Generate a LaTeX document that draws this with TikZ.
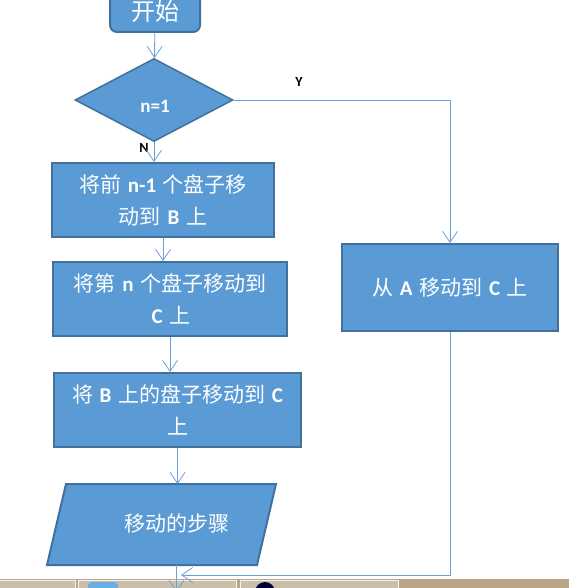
\documentclass[tikz,border=0pt]{standalone}
\usepackage{fontspec}
\setmainfont{Noto Sans CJK SC}
\newfontfamily\latfont{Carlito}
\usetikzlibrary{arrows.meta,positioning,shapes.geometric}
\definecolor{pBlue}{RGB}{91,155,213}
\definecolor{pEdge}{RGB}{65,113,156}
\definecolor{pLine}{RGB}{106,160,214}
\definecolor{pBar}{RGB}{184,165,138}
\definecolor{pTab}{RGB}{203,191,172}
\newcommand{\eng}[1]{\hspace{2pt}{\latfont\bfseries #1}\hspace{2pt}}
\tikzset{
    box/.style={rectangle, draw=pEdge, line width=2pt, fill=pBlue, text=white, align=center, inner sep=0pt, font=\fontsize{21}{32}\selectfont},
    term/.style={box, rounded corners=7pt, minimum width=90pt, minimum height=42pt, font=\fontsize{24}{28}\selectfont},
    dia/.style={diamond, draw=pEdge, line width=1.5pt, fill=pBlue, text=white, inner sep=0pt, minimum width=158pt, minimum height=83pt, text height=26pt, text depth=0pt, font=\fontsize{19}{20}\selectfont},
    parabox/.style={draw=pEdge, line width=2pt, fill=pBlue, line join=miter},
    txt/.style={text=white, font=\fontsize{21}{32}\selectfont},
    lab/.style={font=\fontsize{14}{16}\selectfont\latfont\bfseries},
    link/.style={draw=pLine, line width=0.8pt, -{Straight Barb[length=11pt,width=15pt]}},
    tab/.style={draw=white!85!pBar, line width=1pt, fill=pTab}
}

\begin{document}
\begin{tikzpicture}[x=1pt,y=-1pt]
\useasboundingbox (0,0) rectangle (569,588);
\clip (0,0) rectangle (569,588);
% taskbar at the bottom
\fill[pBar] (0,579) rectangle (569,590);
\draw[tab] (-2,580) rectangle (75,592);
\draw[tab] (78,580) rectangle (236,592);
\draw[tab] (240,580) rectangle (398,592);
\fill[cyan!70!blue!60, rounded corners=4pt] (88,582) rectangle (118,594);
\fill[black!80!blue] (265,592) circle (10);
% flow chart
\node[term] (start) at (155,11) {开始};
\node[dia] (test) at (154,100) {\eng{n=1}};
\node[lab] (ylab) at (299,82) {Y};
\node[lab] (nlab) at (144,148) {N};
\node[box, minimum width=222pt, minimum height=74pt] (b1) at (163,200) {将前 \eng{n-1} 个盘子移\\动到 \eng{B} 上};
\node[box, minimum width=234pt, minimum height=74pt] (b2) at (170,299) {将第 \eng{n} 个盘子移动到\\\eng{C} 上};
\node[box, minimum width=247pt, minimum height=74pt] (b3) at (177.5,410) {将 \eng{B} 上的盘子移动到 \eng{C}\\上};
% output parallelogram
\coordinate (pbl) at (47,565);
\coordinate (ptl) at (66,484);
\coordinate (ptr) at (276,484);
\coordinate (pbr) at (257,565);
\draw[parabox] (pbl) -- (ptl) -- (ptr) -- (pbr) -- cycle;
\node[txt] (steps) at (176.5,524) {移动的步骤};
\node[box, minimum width=216pt, minimum height=87pt] (rbox) at (450,287.5) {从 \eng{A} 移动到 \eng{C} 上};
\coordinate (back) at (181,575);
\coordinate (out) at (176.5,592);
% connectors
\draw[link] (start) -- (test);
\draw[link] (test.south) -- (test.south |- b1.north);
\draw[link] (b1.south) -- (b1.south |- b2.north);
\draw[link] (b2.south) -- (b2.south |- b3.north);
\draw[link] (b3.south) -- (b3.south |- ptl);
\draw[link] (test.east) -| (rbox.north);
\draw[link] (rbox.south) |- (back);
\draw[link] (steps |- pbl) -- (out);
\end{tikzpicture}
\end{document}
